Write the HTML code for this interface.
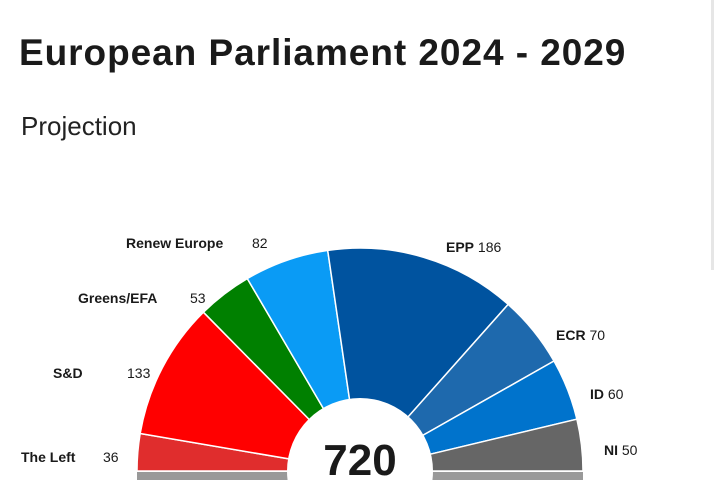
<!DOCTYPE html>
<html><head><meta charset="utf-8"><style>
body{margin:0;width:720px;height:480px;overflow:hidden;background:#fff;font-family:"Liberation Sans",sans-serif;color:#1a1a1a;position:relative}
.t{position:absolute;left:19px;top:32px;font-size:37px;font-weight:bold;letter-spacing:0.95px}
.p{position:absolute;left:21px;top:111px;font-size:26px;color:#222}
</style></head><body>
<div class="t">European Parliament 2024 - 2029</div>
<div class="p">Projection</div>
<div style="position:absolute;left:711px;top:0;width:3px;height:270px;background:#e6e6e6"></div>
<svg id="s" width="720" height="480" style="position:absolute;left:0;top:0;display:block">
<rect x="137" y="472" width="446" height="8" fill="#999"/>
<g id="g"></g>
<circle cx="360" cy="471" r="73" fill="#fff"/>
<text x="360" y="475" text-anchor="middle" font-size="44" font-weight="bold" fill="#1a1a1a" font-family="Liberation Sans">720</text>
<g font-family="Liberation Sans" font-size="14" fill="#1a1a1a">
<text x="126" y="248"><tspan font-weight="bold">Renew Europe</tspan><tspan x="252">82</tspan></text>
<text x="78" y="303"><tspan font-weight="bold">Greens/EFA</tspan><tspan x="190">53</tspan></text>
<text x="53" y="378"><tspan font-weight="bold">S&amp;D</tspan><tspan x="127">133</tspan></text>
<text x="21" y="462"><tspan font-weight="bold">The Left</tspan><tspan x="103">36</tspan></text>
<text x="446" y="252"><tspan font-weight="bold">EPP</tspan> 186</text>
<text x="556" y="340"><tspan font-weight="bold">ECR</tspan> 70</text>
<text x="590" y="399"><tspan font-weight="bold">ID</tspan> 60</text>
<text x="604" y="455"><tspan font-weight="bold">NI</tspan> 50</text>
</g>
</svg>
<script>
var d=[[36,"#e02d2d"],[133,"#ff0000"],[53,"#008000"],[82,"#0a9bf5"],[186,"#00539f"],[70,"#1e69ad"],[60,"#0073cc"],[50,"#666666"]];
var cx=360,cy=471,R=223,r=60,tot=670,a=Math.PI,h="";
function P(rad,an){return (cx+rad*Math.cos(an)).toFixed(2)+","+(cy-rad*Math.sin(an)).toFixed(2);}
d.forEach(function(e){var b=a-e[0]/tot*Math.PI;
h+='<path d="M'+P(r,a)+' L'+P(R,a)+' A'+R+','+R+' 0 0 1 '+P(R,b)+' L'+P(r,b)+' Z" fill="'+e[1]+'" stroke="#fff" stroke-width="1.5"/>';a=b;});
document.getElementById("g").innerHTML=h;
</script>
</body></html>
